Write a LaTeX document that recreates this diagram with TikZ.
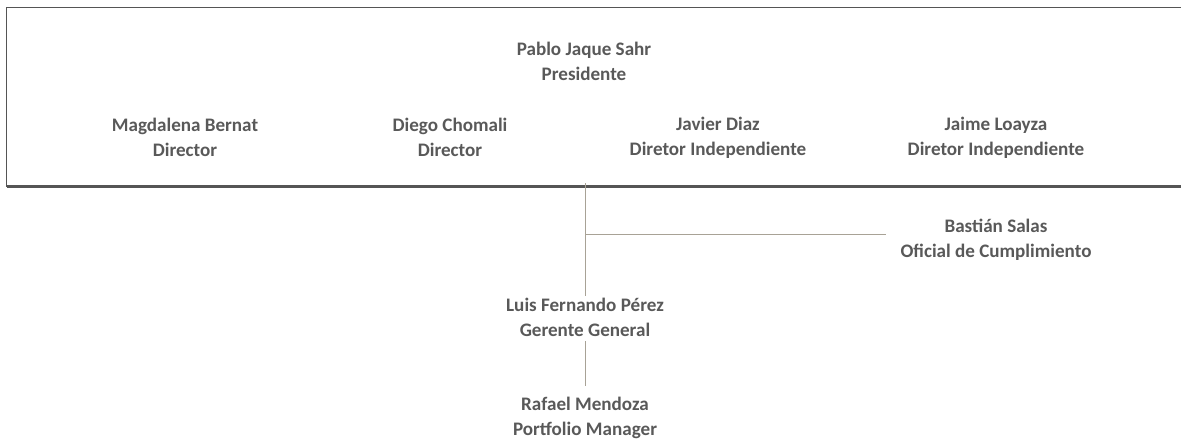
\documentclass[tikz,border=0pt]{standalone}
\usepackage{fontspec}
\setmainfont{Carlito}
\usepackage{xcolor}
\usetikzlibrary{positioning,calc}
\definecolor{txtgrey}{HTML}{595959}
\definecolor{boardgrey}{HTML}{555555}
\definecolor{linktan}{HTML}{A8A296}
\tikzset{
  person/.style={align=center, text=txtgrey, inner sep=2pt,
    font=\fontsize{19.1}{25}\selectfont\bfseries},
  link/.style={draw=linktan, line width=0.9pt}
}

\begin{document}
\begin{tikzpicture}[x=1pt, y=-1pt]
    \useasboundingbox (0,0) rectangle (1181,439);

    % Board
    \coordinate (bnw) at (6.5,7.5);
    \coordinate (bne) at (1190,7.5);
    \coordinate (bsw) at (6.5,186.5);
    \coordinate (bse) at (1190,186.5);
    \draw[boardgrey, line width=1.1pt] (bne) -- (bnw) -- (bsw);
    \draw[boardgrey, line width=2.2pt] (bsw) -- (bse);

    \node[person] (pres) at (584,61) {Pablo Jaque Sahr\\Presidente};
    \node[person] (magda) at (185,137.5) {Magdalena Bernat\\Director};
    \node[person] (diego) at (450,137.5) {Diego Chomali\\Director};
    \node[person] (javier) at (718,137.5) {Javier Diaz\\Diretor Independiente};
    \node[person] (jaime) at (996,137.5) {Jaime Loayza\\Diretor Independiente};

    % Management
    \node[person] (bastian) at (996,240) {Bastián Salas\\Oficial de Cumplimiento};
    \node[person] (luis) at (585,317) {Luis Fernando Pérez\\Gerente General};
    \node[person] (rafael) at (585,417.5) {Rafael Mendoza\\Portfolio Manager};

    % Connections
    \coordinate (top) at (585,183);
    \coordinate (branch) at (585,234);
    \draw[link] (top) -- (luis.north);
    \draw[link, shorten >=12pt] (branch) -- (branch -| bastian.west);
    \draw[link, shorten <=3pt, shorten >=8pt] (luis.south) -- (rafael.north);
\end{tikzpicture}
\end{document}
